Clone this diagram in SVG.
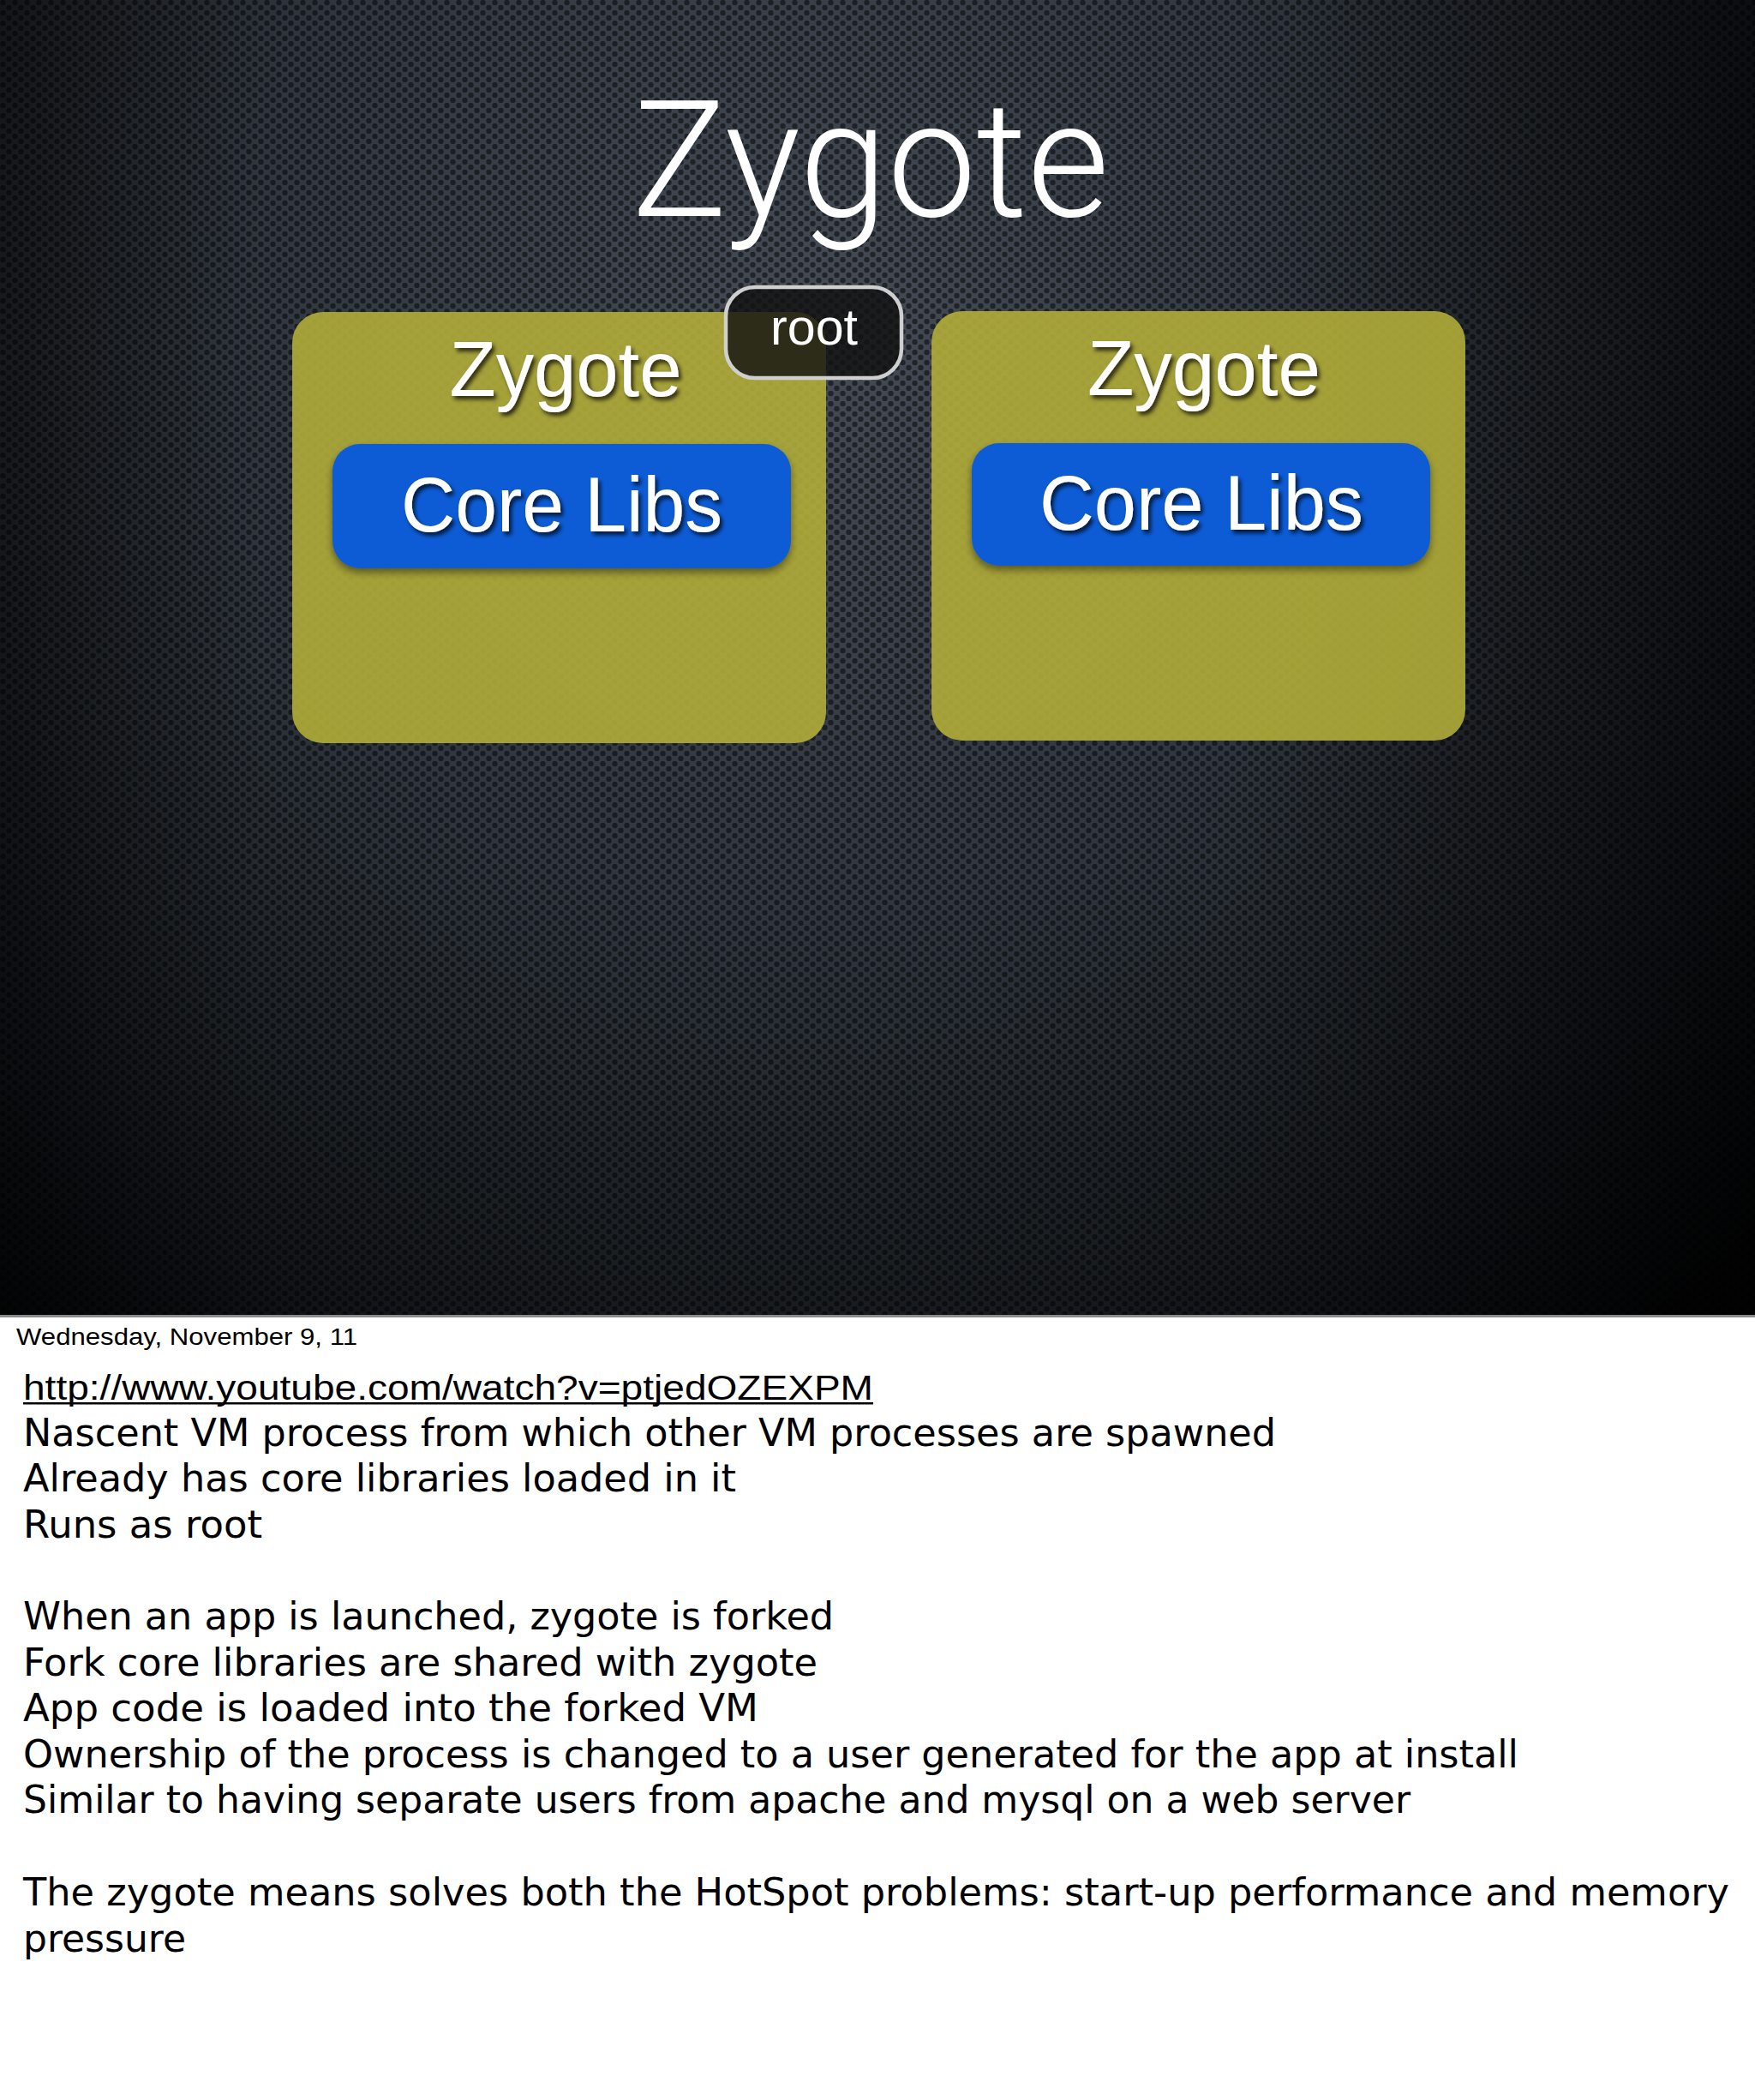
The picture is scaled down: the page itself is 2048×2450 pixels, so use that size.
<svg xmlns="http://www.w3.org/2000/svg" width="2048" height="2450" viewBox="0 0 2048 2450">
  <defs>
    <radialGradient id="bg" gradientUnits="userSpaceOnUse" cx="950" cy="420" r="1500" fx="950" fy="380">
      <stop offset="0" stop-color="#454c56"/>
      <stop offset="0.45" stop-color="#30363e"/>
      <stop offset="0.8" stop-color="#13171b"/>
      <stop offset="1" stop-color="#030405"/>
    </radialGradient>
    <linearGradient id="vign" x1="0" y1="0" x2="1" y2="0">
      <stop offset="0" stop-color="#000" stop-opacity="0.35"/>
      <stop offset="0.15" stop-color="#000" stop-opacity="0"/>
      <stop offset="0.7" stop-color="#000" stop-opacity="0"/>
      <stop offset="1" stop-color="#000" stop-opacity="0.45"/>
    </linearGradient>
    <pattern id="holes" width="14" height="12" patternUnits="userSpaceOnUse">
      <circle cx="3.5" cy="3" r="3.2" fill="#000" fill-opacity="0.5"/>
      <circle cx="10.5" cy="9" r="3.2" fill="#000" fill-opacity="0.5"/>
    </pattern>
    <filter id="ts" x="-10%" y="-20%" width="130%" height="150%">
      <feDropShadow dx="3" dy="4" stdDeviation="2.5" flood-color="#000" flood-opacity="0.75"/>
    </filter>
    <filter id="bs" x="-10%" y="-20%" width="120%" height="150%">
      <feDropShadow dx="0" dy="5" stdDeviation="5" flood-color="#000" flood-opacity="0.45"/>
    </filter>
    <style>
      .ybox { fill: #b1ad3a; fill-opacity: 0.9; }
      .blue { fill: #0a5bd6; }
      .wtxt { fill: #ffffff; font-family: "Liberation Sans", Arial, sans-serif; text-anchor: middle; }
      .note { fill: #000; font-family: "DejaVu Sans", "Open Sans", sans-serif; font-size: 44px; }
    </style>
  </defs>

  <!-- slide background -->
  <rect x="0" y="0" width="2048" height="1536" fill="url(#bg)"/>
  <rect x="0" y="0" width="2048" height="1536" fill="url(#holes)"/>
  <rect x="0" y="0" width="2048" height="1536" fill="url(#vign)"/>
  <rect x="0" y="1534" width="2048" height="3" fill="#8a8a8a"/>
  <rect x="0" y="1537" width="2048" height="913" fill="#ffffff"/>

  <g id="title">
    <text x="1016" y="252" font-size="190" font-family="Roboto, 'Liberation Sans', sans-serif" font-weight="300" fill="#fff" text-anchor="middle" textLength="557" lengthAdjust="spacingAndGlyphs">Zygote</text>
  </g>

  <g id="connectors"></g>

  <g id="zygote-left">
    <rect class="ybox" x="341" y="364" width="623" height="503" rx="36"/>
    <text class="wtxt" x="660" y="462" font-size="91" filter="url(#ts)" textLength="271" lengthAdjust="spacingAndGlyphs">Zygote</text>
    <g id="corelibs-left">
      <rect class="blue" x="388" y="518" width="535" height="145" rx="32" filter="url(#bs)"/>
      <text class="wtxt" x="655.5" y="620" font-size="91" filter="url(#ts)" textLength="375" lengthAdjust="spacingAndGlyphs">Core Libs</text>
    </g>
  </g>

  <g id="zygote-right">
    <rect class="ybox" x="1087" y="363" width="623" height="501" rx="36"/>
    <text class="wtxt" x="1405" y="461" font-size="91" filter="url(#ts)" textLength="272" lengthAdjust="spacingAndGlyphs">Zygote</text>
    <g id="corelibs-right">
      <rect class="blue" x="1134" y="517" width="535" height="143" rx="32" filter="url(#bs)"/>
      <text class="wtxt" x="1402" y="618" font-size="91" filter="url(#ts)" textLength="378" lengthAdjust="spacingAndGlyphs">Core Libs</text>
    </g>
  </g>

  <g id="root-badge">
    <rect x="847" y="335" width="205" height="106" rx="34" fill="#121212" fill-opacity="0.82" stroke="#cfcfcf" stroke-width="4.5"/>
    <text class="wtxt" x="950" y="402" font-size="60" textLength="102" lengthAdjust="spacingAndGlyphs">root</text>
  </g>

  <g id="footer">
    <text x="19" y="1569" font-size="28" font-family="'Liberation Sans', Arial, sans-serif" fill="#000" textLength="398" lengthAdjust="spacingAndGlyphs">Wednesday, November 9, 11</text>
  </g>

  <g id="notes">
    <text x="27" y="1633" font-size="40" font-family="'Liberation Sans', Arial, sans-serif" fill="#000" textLength="992" lengthAdjust="spacingAndGlyphs">http://www.youtube.com/watch?v=ptjedOZEXPM</text>
    <rect x="27" y="1636" width="992" height="2.5" fill="#000"/>
    <text class="note" x="27" y="1687" textLength="1462" lengthAdjust="spacingAndGlyphs">Nascent VM process from which other VM processes are spawned</text>
    <text class="note" x="27" y="1740" textLength="832" lengthAdjust="spacingAndGlyphs">Already has core libraries loaded in it</text>
    <text class="note" x="27" y="1794" textLength="279" lengthAdjust="spacingAndGlyphs">Runs as root</text>
    <text class="note" x="27" y="1901" textLength="946" lengthAdjust="spacingAndGlyphs">When an app is launched, zygote is forked</text>
    <text class="note" x="27" y="1955" textLength="927" lengthAdjust="spacingAndGlyphs">Fork core libraries are shared with zygote</text>
    <text class="note" x="27" y="2008" textLength="858" lengthAdjust="spacingAndGlyphs">App code is loaded into the forked VM</text>
    <text class="note" x="27" y="2062" textLength="1745" lengthAdjust="spacingAndGlyphs">Ownership of the process is changed to a user generated for the app at install</text>
    <text class="note" x="27" y="2115" textLength="1619" lengthAdjust="spacingAndGlyphs">Similar to having separate users from apache and mysql on a web server</text>
    <text class="note" x="27" y="2223" textLength="1991" lengthAdjust="spacingAndGlyphs">The zygote means solves both the HotSpot problems: start-up performance and memory</text>
    <text class="note" x="27" y="2277" textLength="190" lengthAdjust="spacingAndGlyphs">pressure</text>
  </g>
</svg>
